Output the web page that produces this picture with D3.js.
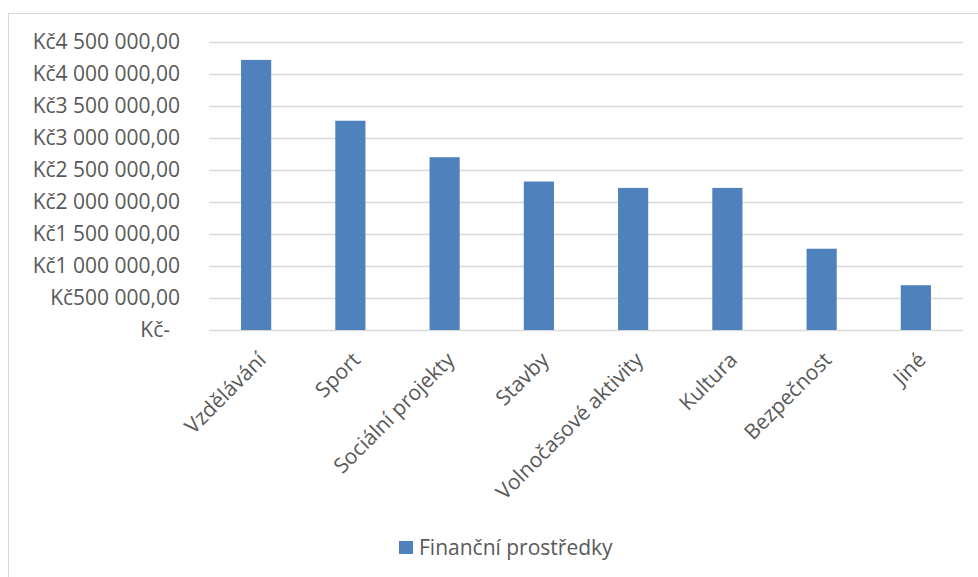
<!DOCTYPE html>
<html>
<head>
<meta charset="utf-8">
<script src="https://cdn.jsdelivr.net/npm/d3@7"></script>
<style>
  body { margin: 0; background: #fff; }
  text { font-family: "Open Sans", sans-serif; fill: #595959; }
</style>
</head>
<body>
<svg id="chart" width="978" height="577"></svg>
<script>
// data
var categories = ["Vzdělávání", "Sport", "Sociální projekty", "Stavby",
  "Volnočasové aktivity", "Kultura", "Bezpečnost", "Jiné"];
var values = [4220000, 3270000, 2700000, 2320000, 2220000, 2220000, 1270000, 700000];
var yTicks = [0, 500000, 1000000, 1500000, 2000000, 2500000, 3000000, 3500000, 4000000, 4500000];
var seriesName = "Finanční prostředky";

var svg = d3.select("#chart");
var width = +svg.attr("width"),
    height = +svg.attr("height");

var fontSize = 21;

// chart border
svg.append("rect")
  .attr("x", 8.5).attr("y", 13.5)
  .attr("width", width).attr("height", height)
  .attr("fill", "#fff")
  .attr("stroke", "#d9d9d9")
  .attr("stroke-width", 1);

var x = d3.scaleBand()
  .domain(categories)
  .range([209, 963])
  .paddingInner(0.68)
  .paddingOuter(0.34);

var y = d3.scaleLinear()
  .domain([0, 4500000])
  .range([330, 42]);

function kc(v) {
  if (v === 0) return "Kč-";
  var s = d3.format(",.2f")(v); // 4,500,000.00
  return "Kč" + s.replace(/,/g, " ").replace(".", ",");
}

// gridlines
svg.append("g")
  .attr("class", "grid")
  .selectAll("line")
  .data(yTicks)
  .enter().append("line")
  .attr("x1", 209).attr("x2", 963)
  .attr("y1", function(d) { return Math.round(y(d)) + 0.5; })
  .attr("y2", function(d) { return Math.round(y(d)) + 0.5; })
  .attr("stroke", "#d9d9d9")
  .attr("stroke-width", 1.5);

// y labels
svg.append("g")
  .attr("class", "ylabels")
  .selectAll("text")
  .data(yTicks)
  .enter().append("text")
  .attr("x", function(d) { return d === 0 ? 170 : 180; })
  .attr("y", function(d) { return y(d); })
  .attr("dy", "0.35em")
  .attr("text-anchor", "end")
  .attr("font-size", fontSize)
  .text(kc);

// bars
svg.append("g")
  .attr("class", "bars")
  .selectAll("rect")
  .data(values)
  .enter().append("rect")
  .attr("x", function(d, i) { return x(categories[i]); })
  .attr("y", function(d) { return y(d); })
  .attr("width", x.bandwidth())
  .attr("height", function(d) { return y(0) - y(d); })
  .attr("fill", "#4f81bd");

// x labels, rotated
svg.append("g")
  .attr("class", "xlabels")
  .selectAll("text")
  .data(categories)
  .enter().append("text")
  .attr("transform", function(d) {
    return "translate(" + (x(d) + x.bandwidth() / 2 + 6) + ",356) rotate(-45)";
  })
  .attr("dy", "0.35em")
  .attr("text-anchor", "end")
  .attr("font-size", fontSize)
  .text(function(d) { return d; });

// legend
var legend = svg.append("g").attr("class", "legend");
legend.append("rect")
  .attr("x", 399).attr("y", 541)
  .attr("width", 14).attr("height", 13)
  .attr("fill", "#4f81bd");
legend.append("text")
  .attr("x", 419).attr("y", 548)
  .attr("dy", "0.35em")
  .attr("font-size", fontSize)
  .text(seriesName);
</script>
</body>
</html>
